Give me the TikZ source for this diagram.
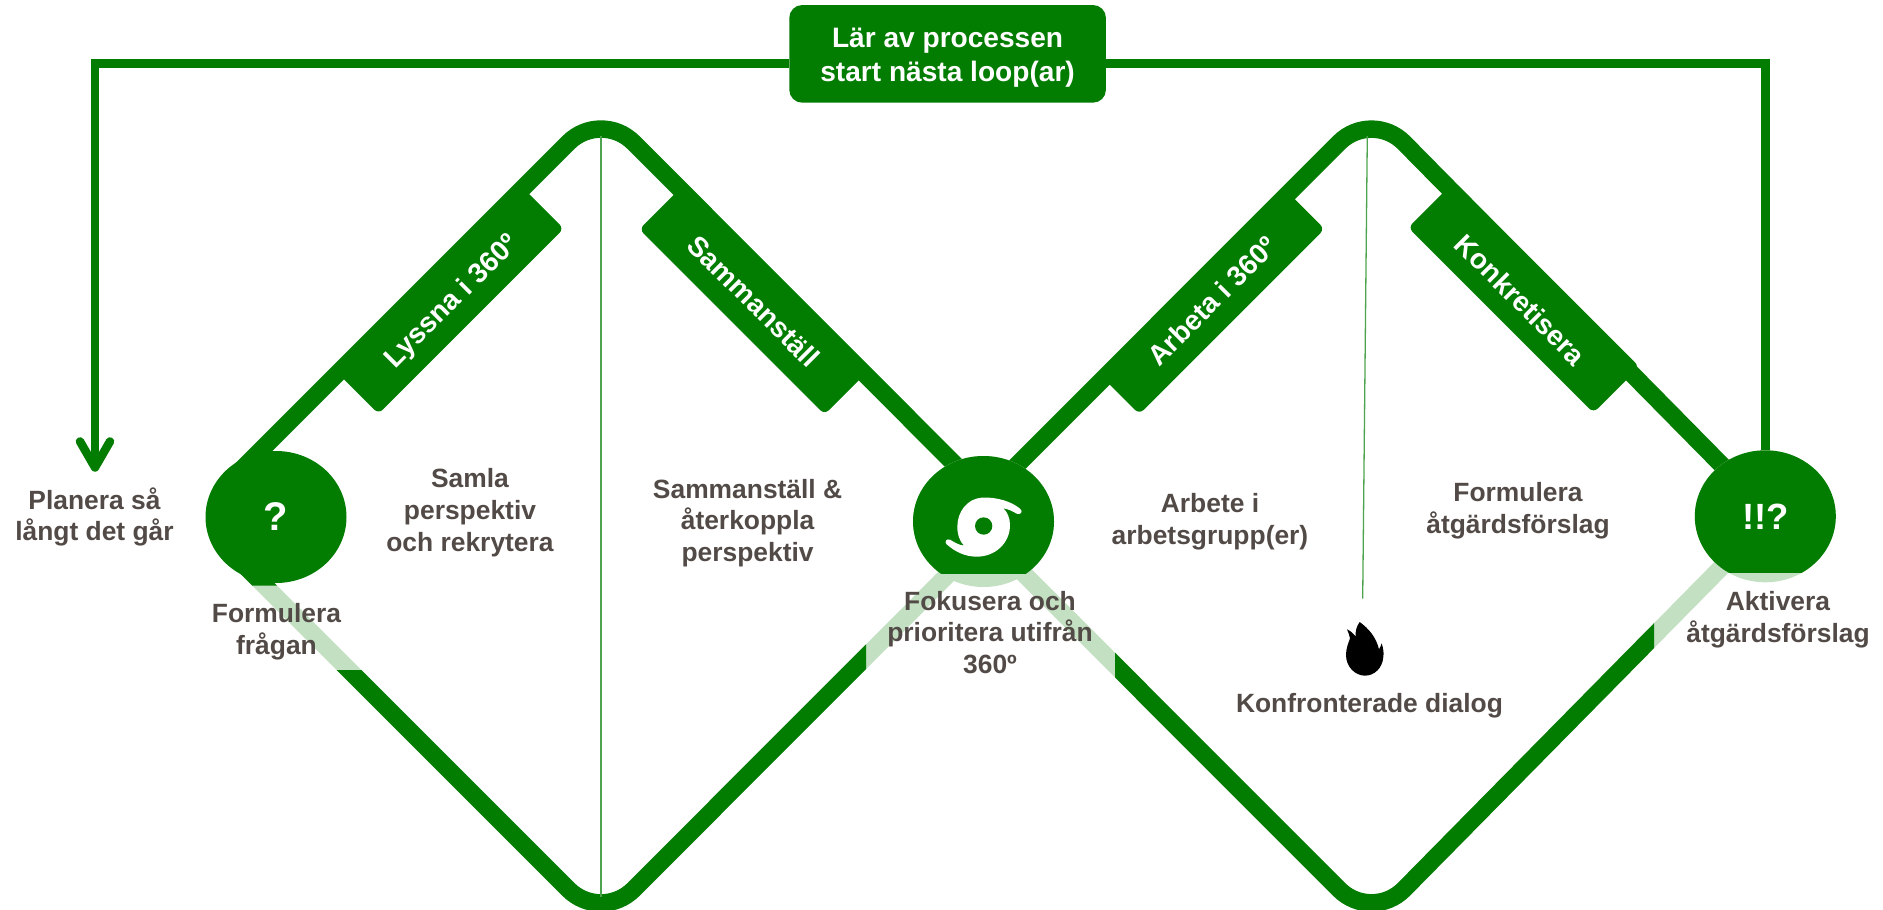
\documentclass[tikz,border=0pt]{standalone}
\usepackage{fontspec}
\setmainfont{Liberation Sans}
\usetikzlibrary{shapes.geometric,arrows.meta}
\definecolor{gr}{RGB}{2,125,2}
\definecolor{lt}{RGB}{195,224,195}
\definecolor{tx}{RGB}{82,74,70}
\tikzset{
  rail/.style={line width=17.5pt,line cap=butt,rounded corners=46pt},
  thin rule/.style={draw=gr!70,line width=1.3pt},
  lbl/.style={text=tx,align=center,inner sep=0pt,font=\bfseries\fontsize{26.4}{31.8}\selectfont},
  bar/.style={fill=gr,rounded corners=6pt,minimum width=262pt,inner sep=0pt},
  bartext/.style={text=white,inner sep=0pt,font=\bfseries\fontsize{28}{34}\selectfont},
  hub/.style={ellipse,inner sep=0pt,minimum width=141pt,minimum height=132pt,text=white,font=\bfseries\fontsize{40}{48}\selectfont},
  loopline/.style={draw=gr,line width=8.5pt},
}
\begin{document}
\begin{tikzpicture}[x=1pt,y=-1pt]
\useasboundingbox (0,0) rectangle (1883,910);
% named points of the two diamonds
\coordinate (A1) at (601,110);
\coordinate (B1) at (601,922);
\coordinate (A2) at (1371.7,110);
\coordinate (B2) at (1371.7,922);
\coordinate (L1up) at (236,475);
\coordinate (L1lo) at (236,557);
\coordinate (R1) at (1006.5,516);
\coordinate (L2) at (966,516);
\coordinate (R2) at (1772,516);
\coordinate (tipPlan) at (95,471.7);
% light lower sides
\draw[rail,draw=lt] (L1lo) -- (B1) -- (R1);
\draw[rail,draw=lt] (L2) -- (B2) -- (R2);
% dark parts of lower sides
\begin{scope}
  \clip (0,400) rectangle (400,585.7) (0,670) rectangle (866,910) (400,640) rectangle (866,910);
  \draw[rail,draw=gr] (L1lo) -- (B1) -- (R1);
\end{scope}
\begin{scope}
  \clip (1115,600) rectangle (1654,910);
  \draw[rail,draw=gr] (L2) -- (B2) -- (R2);
\end{scope}
% upper sides
\draw[rail,draw=gr] (L1up) -- (A1) -- (R1);
\draw[rail,draw=gr] (L2) -- (A2) -- (R2);
% centre rules
\coordinate (r1a) at (601,136);
\coordinate (r1b) at (601,897);
\coordinate (r2a) at (1367.3,136);
\coordinate (r2b) at (1362.7,598.7);
\draw[thin rule] (r1a) -- (r1b);
\draw[thin rule] (r2a) -- (r2b);
% bars
\node[bar,rotate=45,minimum height=65pt] (lyssna) at (448.2,298.3) {};
\node[bar,rotate=-45,minimum height=65pt] (samman) at (754.9,298.9) {};
\node[bar,rotate=45,minimum height=58.7pt] (arbeta) at (1211.2,300.8) {};
\node[bar,rotate=-45,minimum height=65pt] (konkret) at (1523.8,297.2) {};
\node[bartext,rotate=45] (tlyssna) at (452.5,302) {Lyssna i 360º};
\node[bartext,rotate=-45] (tsamman) at (753.9,301) {Sammanställ};
\node[bartext,rotate=45] (tarbeta) at (1211.8,300.8) {Arbeta i 360º};
\node[bartext,rotate=-45] (tkonkret) at (1520.5,300) {Konkretisera};
% hubs
\node[hub,fill=gr] (c1) at (276,517) {?};
\node[hub,fill=lt,minimum height=131pt,path picture={\fill[gr] ([xshift=-90pt,yshift=90pt]path picture bounding box.center) rectangle ([xshift=90pt,yshift=-52.5pt]path picture bounding box.center);}] (c2) at (983.5,521.5) {};
\node[hub,fill=lt,font=\bfseries\fontsize{36.5}{44}\selectfont,path picture={\fill[gr] ([xshift=-90pt,yshift=90pt]path picture bounding box.center) rectangle ([xshift=90pt,yshift=-57pt]path picture bounding box.center);}] (c3) at (1765.3,516.3) {!!?};
% cyclone icon
\begin{scope}[shift={(880,430)},x=0.33333pt,y=-0.33333pt]
\fill[white] (420,236) .. controls (395,215) and (350,200) .. (305,203) .. controls (262,206) and (232,245) .. (232,290) .. controls (232,315) and (240,335) .. (252,347) .. controls (235,345) and (220,335) .. (210,329) .. controls (200,325) and (192,335) .. (200,343) .. controls (225,365) and (255,380) .. (290,380) .. controls (345,380) and (390,340) .. (390,285) .. controls (390,265) and (382,245) .. (370,235) .. controls (385,237) and (400,245) .. (410,251) .. controls (420,256) and (432,245) .. (420,236) -- cycle;
\fill[gr] (311,288) circle[radius=26];
\end{scope}
% flame icon
\begin{scope}[shift={(1300,600)},x=0.33333pt,y=-0.33333pt]
\fill[black] (179,66) .. controls (205,85) and (228,110) .. (237,148) .. controls (240,143) and (243,137) .. (245,130) .. controls (250,145) and (252,160) .. (250,170) .. controls (248,205) and (222,227) .. (195,227) .. controls (165,227) and (138,200) .. (138,165) .. controls (138,145) and (145,130) .. (150,115) .. controls (148,105) and (145,97) .. (141,88) .. controls (152,93) and (160,100) .. (167,110) .. controls (165,95) and (170,78) .. (179,66) -- cycle;
\end{scope}
% top box and loop
\node[fill=gr,text=white,rounded corners=13pt,align=center,inner sep=0pt,minimum width=316.7pt,minimum height=97.7pt,font=\bfseries\fontsize{28.1}{33.5}\selectfont] (box) at (947.6,53.85) {\rule{0pt}{27pt}Lär av processen\\start nästa loop(ar)};
\draw[loopline,-{Straight Barb[length=26pt,width=30pt,round]}] ([yshift=-9.65pt]box.west) -| (tipPlan);
\draw[loopline] ([yshift=-9.65pt]box.east) -| (c3.north);
% labels
\node[lbl] (plan) at (94.5,517) {Planera så\\långt det går};
\node[lbl] (form) at (276.5,631.5) {Formulera\\frågan};
\node[lbl] (samla) at (470,512.4) {Samla\\perspektiv\\och rekrytera};
\node[lbl] (saterk) at (747.6,523) {Sammanställ \&\\återkoppla\\perspektiv};
\node[lbl] (fok) at (990,632.5) {Fokusera och\\prioritera utifrån\\360º};
\node[lbl] (arb) at (1210,522) {Arbete i\\arbetsgrupp(er)};
\node[lbl] (fatg) at (1518,510.5) {Formulera\\åtgärdsförslag};
\node[lbl] (konf) at (1369.5,705.5) {Konfronterade dialog};
\node[lbl] (akt) at (1778,619.5) {Aktivera\\åtgärdsförslag};
\end{tikzpicture}
\end{document}
